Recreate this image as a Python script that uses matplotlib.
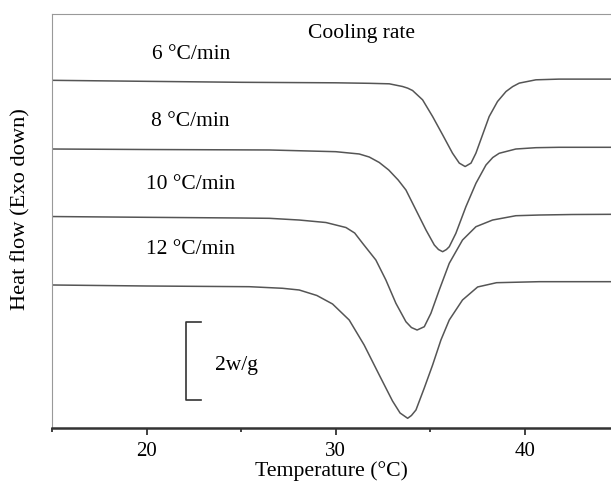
import matplotlib
matplotlib.use('Agg')
import matplotlib.pyplot as plt
from matplotlib.ticker import MultipleLocator

plt.rcParams['font.family'] = ['Liberation Serif', 'DejaVu Serif']

# DSC cooling curves, heat flow relative to the high-T baseline (W/g)
t_6 = [15, 20, 25, 30, 31.77, 32.83, 33.53, 33.8, 34.06, 34.59, 35.12, 35.65, 36.17, 36.53,
       36.84, 37.15, 37.41, 37.76, 38.11, 38.55, 39.0, 39.35, 39.7, 40.58, 41.8, 44.6]
hf_6 = [-0.031, -0.057, -0.082, -0.095, -0.108, -0.121, -0.190, -0.232, -0.293, -0.533,
        -0.963, -1.434, -1.905, -2.162, -2.250, -2.162, -1.905, -1.434, -0.963, -0.577,
        -0.319, -0.193, -0.103, -0.018, 0.0, 0.0]

t_8 = [15, 20, 26.5, 30.0, 31.24, 31.77, 32.3, 32.8, 33.3, 33.71, 34.24, 34.77, 35.21, 35.43,
       35.65, 35.85, 36.0, 36.35, 36.88, 37.41, 37.94, 38.3, 38.64, 39.52, 40.58, 41.8, 44.6]
hf_8 = [-0.044, -0.057, -0.069, -0.113, -0.172, -0.250, -0.391, -0.584, -0.842, -1.099,
        -1.614, -2.129, -2.515, -2.631, -2.687, -2.631, -2.559, -2.214, -1.529, -0.927,
        -0.456, -0.263, -0.154, -0.044, -0.010, 0.0, 0.0]

t_10 = [15, 20, 25, 26.5, 28.07, 29.48, 30.54, 31.0, 31.42, 32.12, 32.65, 33.18, 33.71, 34.0,
        34.3, 34.68, 35.03, 35.47, 36.0, 36.70, 37.41, 38.29, 39.52, 40.76, 42.5, 44.6]
hf_10 = [-0.057, -0.077, -0.095, -0.103, -0.147, -0.211, -0.340, -0.481, -0.746, -1.176,
         -1.691, -2.291, -2.765, -2.914, -2.978, -2.893, -2.548, -1.949, -1.261, -0.662,
         -0.319, -0.147, -0.036, -0.018, -0.005, 0.0]

t_12 = [15, 20, 25.43, 27.19, 28.07, 29.0, 29.83, 30.71, 31.5, 32.3, 33.0, 33.4, 33.8, 34.0,
        34.24, 34.68, 35.12, 35.56, 36.0, 36.7, 37.5, 38.5, 40.76, 44.6]
hf_12 = [-0.085, -0.111, -0.129, -0.170, -0.214, -0.355, -0.574, -0.986, -1.629, -2.402,
         -3.071, -3.380, -3.516, -3.444, -3.302, -2.736, -2.144, -1.500, -0.986, -0.471,
         -0.136, -0.026, 0.0, 0.0]

rates = ['6 \u00b0C/min', '8 \u00b0C/min', '10 \u00b0C/min', '12 \u00b0C/min']
offsets = [8.98, 7.225, 5.50, 3.766]
scale_bar = 2  # w/g

fig = plt.figure(figsize=(6.11, 4.91), dpi=100)
ax = fig.add_axes([52/611, 1 - 428/491, 559/611, 414/491])

curves = [(t_6, hf_6), (t_8, hf_8), (t_10, hf_10), (t_12, hf_12)]
for (t, hf), off in zip(curves, offsets):
    ax.plot(t, [v + off for v in hf], color='#555555', lw=1.1)

ax.set_xlim(15, 44.55)
ax.set_ylim(0, 10.656)

# scale bar
ax.plot([22.86, 22.08, 22.08, 22.86], [0.72, 0.72, 0.72 + scale_bar, 0.72 + scale_bar],
        color='#333333', lw=1.2)
ax.text(0.2916, 0.152, '2w/g', transform=ax.transAxes, ha='left', va='center', fontsize=15.5)

ax.text(0.553, 0.954, 'Cooling rate', transform=ax.transAxes, ha='center', va='center', fontsize=15.5)
label_y = [0.901, 0.740, 0.587, 0.430]
for lab, y in zip(rates, label_y):
    ax.text(0.248, y, lab, transform=ax.transAxes, ha='center', va='center', fontsize=15.5)

ax.spines['right'].set_visible(False)
ax.spines['top'].set_color('#999999')
ax.spines['left'].set_color('#999999')
ax.spines['top'].set_linewidth(0.8)
ax.spines['left'].set_linewidth(0.8)
ax.spines['bottom'].set_linewidth(1.8)
ax.spines['bottom'].set_color('#333333')

ax.set_yticks([])
ax.xaxis.set_major_locator(MultipleLocator(10))
ax.xaxis.set_minor_locator(MultipleLocator(5))
ax.tick_params(axis='x', which='major', direction='out', length=5, width=1.3,
               color='#333333', labelsize=15, pad=5)
ax.tick_params(axis='x', which='minor', direction='out', length=3, width=1.3, color='#333333')

ax.set_xlabel('Temperature (\u00b0C)', fontsize=15.7, labelpad=0)
ax.set_ylabel('Heat flow (Exo down)', fontsize=16.2)
ax.yaxis.set_label_coords(-0.039, 0.528)

fig.savefig('out.png', dpi=100)
